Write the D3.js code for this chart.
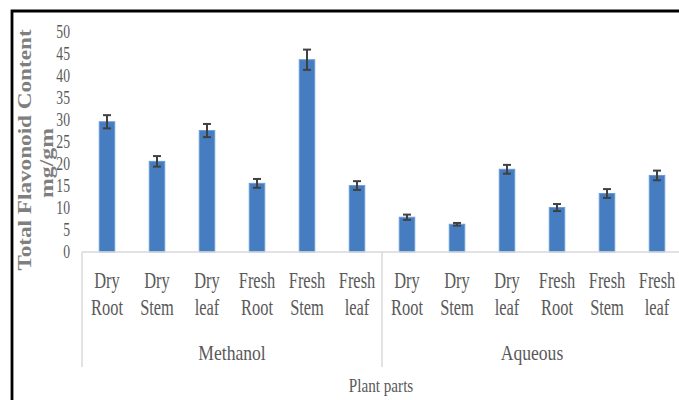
<!DOCTYPE html>
<html>
<head>
<meta charset="utf-8">
<script src="https://cdn.jsdelivr.net/npm/d3@7/dist/d3.min.js"></script>
<style>
  html, body { margin: 0; padding: 0; background: #fff; }
  svg { display: block; }
  text { font-family: "Liberation Serif", "Times New Roman", serif; fill: #595959; }
</style>
</head>
<body>
<svg id="chart" width="679" height="400"></svg>
<script>
// Plant parts and extraction solvents
const parts = ["Dry Root", "Dry Stem", "Dry leaf", "Fresh Root", "Fresh Stem", "Fresh leaf"];
const solvents = ["Methanol", "Aqueous"];

// Total flavonoid content (mg/gm) with standard error
const methanolValues = [29.6, 20.6, 27.6, 15.6, 43.7, 15.1];
const methanolErrors = [1.5, 1.2, 1.5, 1.0, 2.3, 1.0];
const aqueousValues = [7.9, 6.3, 18.8, 10.1, 13.3, 17.4];
const aqueousErrors = [0.6, 0.3, 1.0, 0.8, 1.0, 1.1];

const yTicks = [0, 5, 10, 15, 20, 25, 30, 35, 40, 45, 50];

const svg = d3.select("#chart");

// frame lines (left and top)
svg.append("path")
  .attr("d", "M12,400 V11 H679")
  .attr("fill", "none")
  .attr("stroke", "#000")
  .attr("stroke-width", 2.8);

const plot = { left: 82, right: 682, top: 32, bottom: 252 };

const rows = [];
solvents.forEach((s, si) => {
  const vals = si === 0 ? methanolValues : aqueousValues;
  const errs = si === 0 ? methanolErrors : aqueousErrors;
  parts.forEach((p, pi) => rows.push({ key: s + "|" + p, solvent: s, part: p, value: vals[pi], err: errs[pi] }));
});

const x = d3.scaleBand()
  .domain(rows.map(d => d.key))
  .range([plot.left, plot.right])
  .paddingInner(0.69)
  .paddingOuter(0.345);

const y = d3.scaleLinear().domain([0, 50]).range([plot.bottom, plot.top]);

// y axis ticks (no line)
const yAxis = svg.append("g")
  .attr("transform", "translate(70,0)")
  .call(d3.axisLeft(y).tickValues(yTicks).tickSize(0).tickPadding(0));
yAxis.select(".domain").remove();
yAxis.selectAll("text")
  .attr("x", 0)
  .attr("dy", "0.32em")
  .attr("transform", "scale(0.74,1)")
  .style("font-size", "18.5px")
  .style("font-family", "'Liberation Serif', serif")
  .attr("fill", "#595959");

// bars
svg.append("g").selectAll("rect")
  .data(rows)
  .join("rect")
  .attr("x", d => x(d.key))
  .attr("width", x.bandwidth())
  .attr("y", d => y(d.value))
  .attr("height", d => y(0) - y(d.value))
  .attr("fill", "#467dc0")
  .attr("stroke", "#6a9bd6")
  .attr("stroke-width", 1);

// error bars
const eb = svg.append("g")
  .attr("stroke", "#404040")
  .attr("stroke-width", 2)
  .attr("fill", "none");
rows.forEach(d => {
  const cx = x(d.key) + x.bandwidth() / 2;
  const hi = y(d.value + d.err), lo = y(d.value - d.err);
  eb.append("line").attr("x1", cx).attr("x2", cx).attr("y1", hi).attr("y2", lo);
  eb.append("line").attr("x1", cx - 4).attr("x2", cx + 4).attr("y1", hi).attr("y2", hi);
  eb.append("line").attr("x1", cx - 4).attr("x2", cx + 4).attr("y1", lo).attr("y2", lo);
});

// category axis baseline and group dividers
const axisG = svg.append("g").attr("stroke", "#d9d9d9").attr("stroke-width", 1.5);
axisG.append("line")
  .attr("x1", plot.left).attr("x2", plot.right)
  .attr("y1", plot.bottom).attr("y2", plot.bottom);
const groupEdges = [plot.left, x(rows[parts.length].key) - x.step() * x.paddingInner() / 2, plot.right];
groupEdges.forEach(gx => {
  axisG.append("line")
    .attr("x1", gx).attr("x2", gx)
    .attr("y1", plot.bottom).attr("y2", 367);
});

// two-line part labels
const labels = svg.append("g");
rows.forEach(d => {
  const cx = x(d.key) + x.bandwidth() / 2;
  const words = d.part.split(" ");
  words.forEach((w, i) => {
    labels.append("text")
      .attr("transform", `translate(${cx},${288 + i * 27}) scale(0.73,1)`)
      .attr("text-anchor", "middle")
      .style("font-size", "22.5px")
      .text(w);
  });
});

// solvent group labels
solvents.forEach((s, si) => {
  const gx = (groupEdges[si] + groupEdges[si + 1]) / 2;
  svg.append("text")
    .attr("transform", `translate(${gx},360) scale(0.8,1)`)
    .attr("text-anchor", "middle")
    .style("font-size", "22px")
    .text(s);
});

// axis titles
svg.append("text")
  .attr("transform", `translate(${(plot.left + plot.right) / 2 - 1},392) scale(0.8,1)`)
  .attr("text-anchor", "middle")
  .style("font-size", "19px")
  .text("Plant parts");

svg.append("text")
  .attr("transform", "translate(24,150) rotate(-90) scale(1.22,1)")
  .attr("text-anchor", "middle")
  .attr("dy", "0.35em")
  .style("font-size", "19px")
  .style("font-weight", "bold")
  .style("fill", "#7f7f7f")
  .text("Total Flavonoid Content");

svg.append("text")
  .attr("transform", "translate(46,163) rotate(-90) scale(1.25,1)")
  .attr("text-anchor", "middle")
  .attr("dy", "0.35em")
  .style("font-size", "19px")
  .style("font-weight", "bold")
  .style("fill", "#7f7f7f")
  .text("mg/gm");
</script>
</body>
</html>
